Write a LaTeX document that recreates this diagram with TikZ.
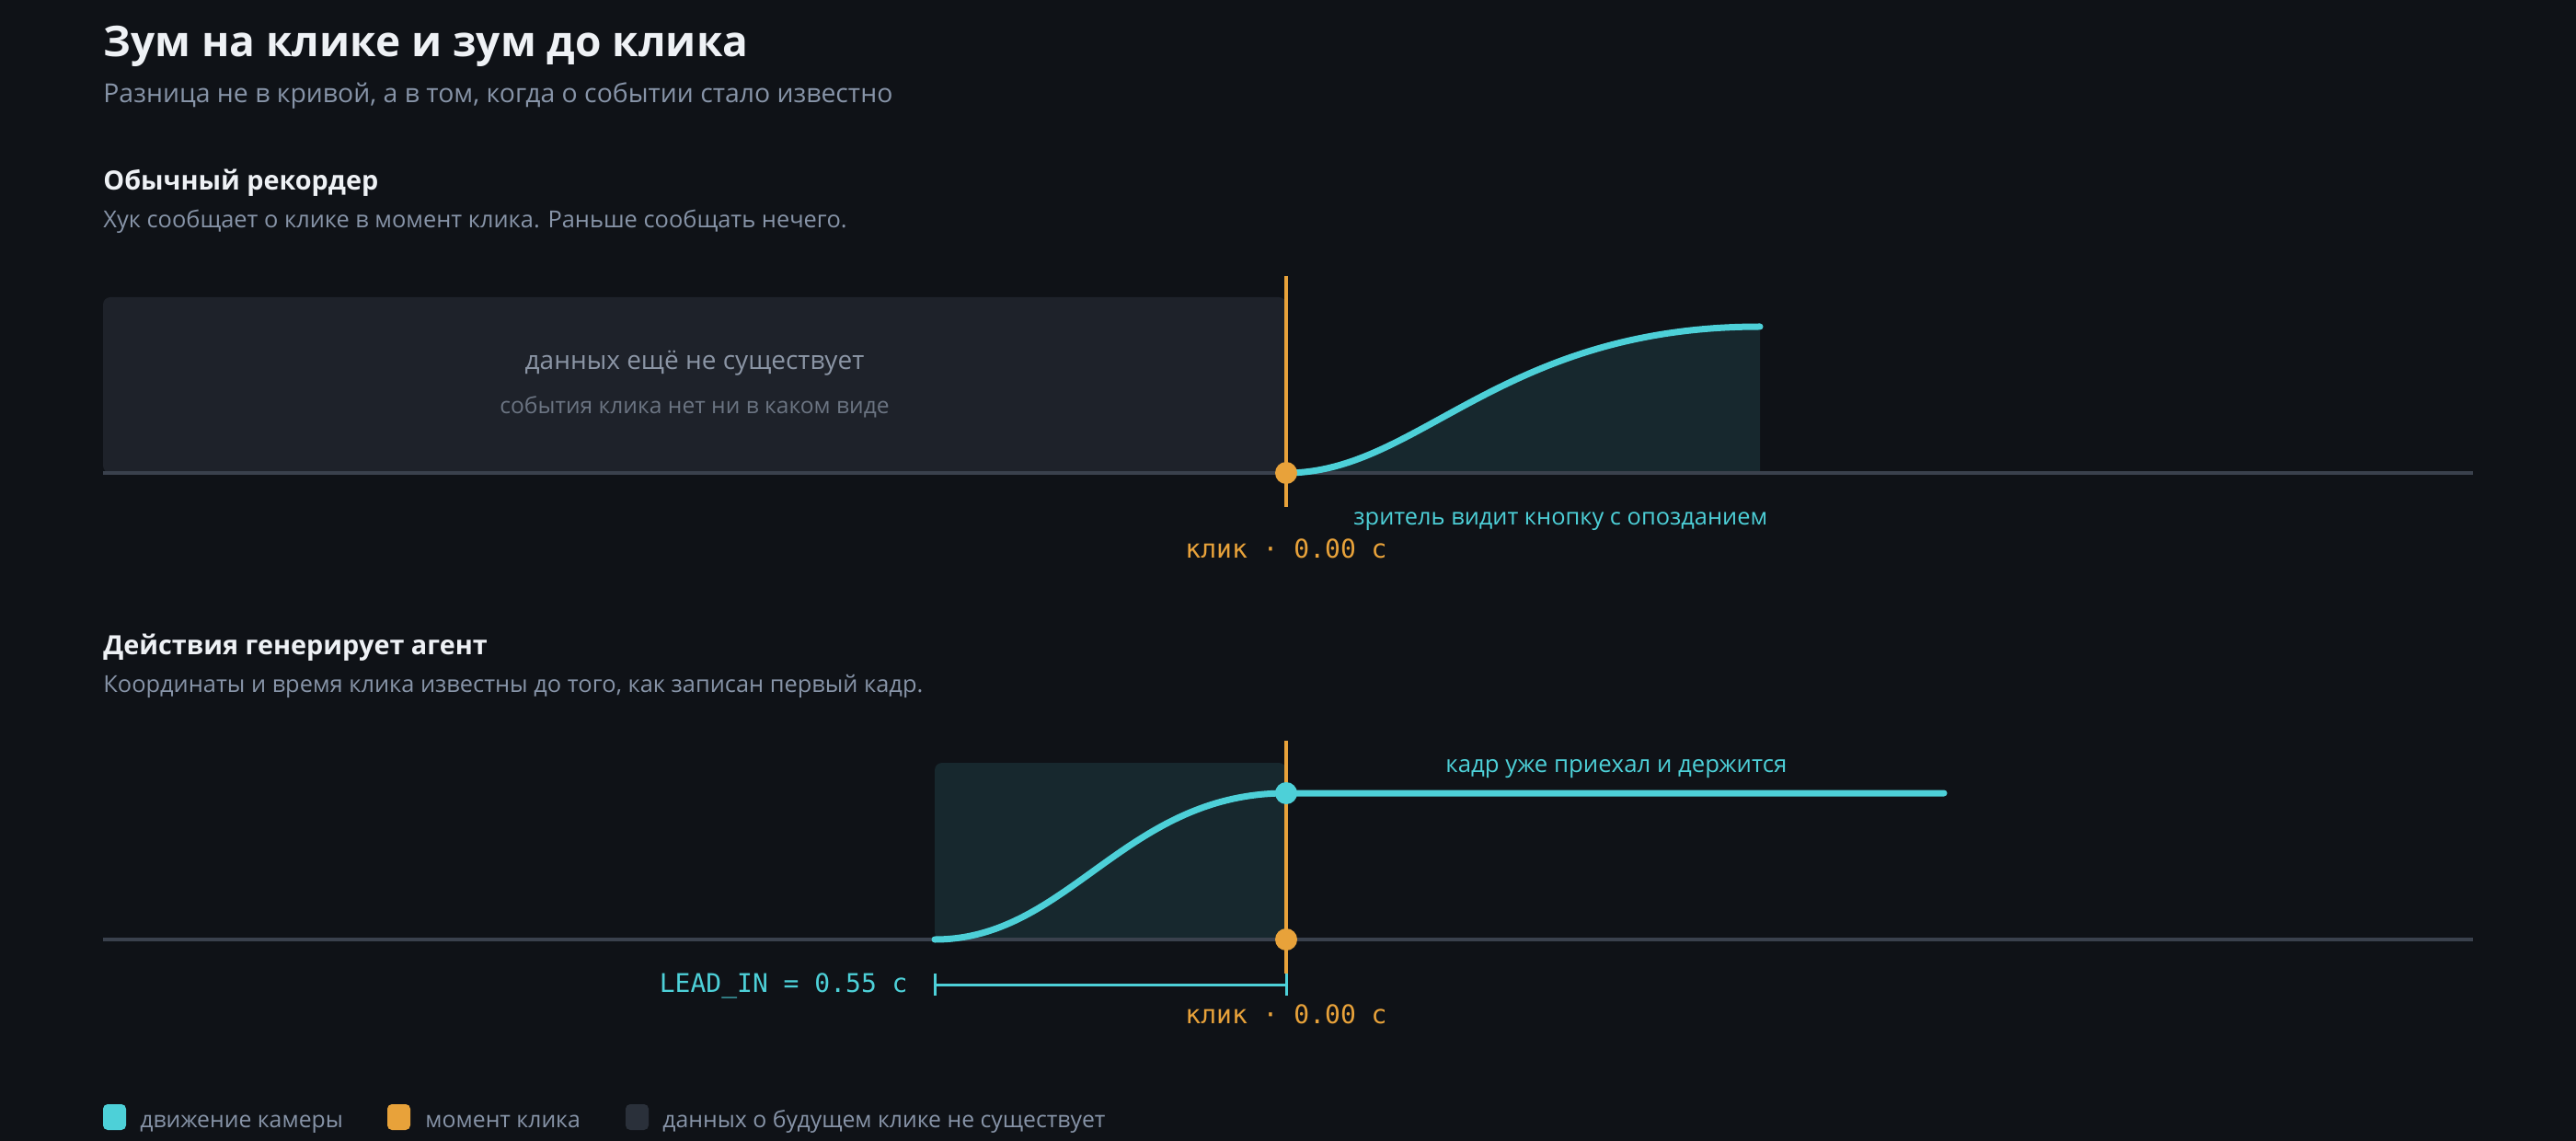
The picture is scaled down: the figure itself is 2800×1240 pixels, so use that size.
\documentclass[tikz,border=0pt]{standalone}
\usepackage{fontspec}
\setmainfont{Open Sans}
\newfontfamily\monof{DejaVu Sans Mono}
\definecolor{bg}{HTML}{0F1217}
\definecolor{nodata}{HTML}{1E222A}
\definecolor{tealfill}{HTML}{17282E}
\definecolor{cyanc}{HTML}{4DD0D8}
\definecolor{orangec}{HTML}{E8A23A}
\definecolor{axisc}{HTML}{3A414D}
\definecolor{titlec}{HTML}{EEF1F5}
\definecolor{subc}{HTML}{8794A8}
\definecolor{boxtxt}{HTML}{8B95A5}
\definecolor{boxtxt2}{HTML}{6B7482}
\definecolor{legsq}{HTML}{2A303A}
\tikzset{
  txt/.style={inner sep=0pt, anchor=base west},
  titletxt/.style={txt, text=titlec, font=\fontsize{23}{27}\selectfont\bfseries},
  subtxt/.style={txt, text=subc, font=\fontsize{14.2}{17}\selectfont},
  headtxt/.style={txt, text=titlec, font=\fontsize{14.4}{18}\selectfont\bfseries},
  desctxt/.style={txt, text=subc, font=\fontsize{12.7}{15}\selectfont},
  axisline/.style={draw=axisc, line width=1.7pt},
  clickline/.style={draw=orangec, line width=2pt},
  curve/.style={draw=cyanc, line width=3.5pt, line cap=round},
  clickdot/.style={circle, fill=orangec, minimum size=12pt, inner sep=0pt},
  camdot/.style={circle, fill=cyanc, minimum size=12pt, inner sep=0pt},
  monotxt/.style={inner sep=0pt, font=\monof\fontsize{14}{16}\selectfont},
  legbox/.style={rounded corners=2.5pt, minimum width=12.5pt, minimum height=14pt, inner sep=0pt},
  legtxt/.style={txt, text=subc, font=\fontsize{12.4}{15}\selectfont},
}
\begin{document}
\begin{tikzpicture}[x=0.5pt,y=-0.5pt]
\useasboundingbox (0,0) rectangle (2800,1240);
\fill[bg] (0,0) rectangle (2800,1240);

% headings
\node[titletxt] (title) at (112,62) {Зум на клике и зум до клика};
\node[subtxt] (sub) at (112,112) {Разница не в кривой, а в том, когда о событии стало известно};
\node[headtxt] (h1) at (112,207) {Обычный рекордер};
\node[desctxt] (d1) at (112,248) {Хук сообщает о клике в момент клика. Раньше сообщать нечего.};

% ---------- top panel ----------
\fill[nodata, rounded corners=4pt] (112,514) -- (112,323) -- (1398,323) -- (1398,514) -- cycle;
\node[inner sep=0pt, text=boxtxt, font=\fontsize{14}{17}\selectfont, anchor=base] (nd1) at (755,402) {данных ещё не существует};
\node[inner sep=0pt, text=boxtxt2, font=\fontsize{12.3}{15}\selectfont, anchor=base] (nd2) at (755,450) {события клика нет ни в каком виде};
\fill[tealfill] (1398,514) .. controls (1542.2,514) and (1629.8,355) .. (1913,355) -- (1913,514) -- cycle;
\coordinate (ax1s) at (112,514);
\coordinate (ax1e) at (2688,514);
\draw[axisline] (ax1s) -- (ax1e);
\coordinate (c1s) at (1398,514);
\coordinate (c1e) at (1913,355);
\draw[curve] (c1s) .. controls (1542.2,514) and (1629.8,355) .. (c1e);
\coordinate (o1t) at (1398,300);
\coordinate (o1b) at (1398,551);
\draw[clickline] (o1t) -- (o1b);
\node[clickdot] (dot1) at (1398,514) {};
\node[txt, text=cyanc, font=\fontsize{12.7}{15}\selectfont] (late) at (1471,571) {зритель видит кнопку с опозданием};
\node[monotxt, text=orangec, anchor=base] (click1) at (1398,607) {клик · 0.00 с};

% ---------- bottom panel ----------
\node[headtxt] (h2) at (112,711) {Действия генерирует агент};
\node[desctxt] (d2) at (112,752) {Координаты и время клика известны до того, как записан первый кадр.};

\fill[tealfill, rounded corners=4pt] (1016,1021) -- (1016,829) -- (1398,829) -- (1398,1021) -- cycle;
\coordinate (ax2s) at (112,1021);
\coordinate (ax2e) at (2688,1021);
\draw[axisline] (ax2s) -- (ax2e);
\coordinate (c2s) at (1016,1021);
\coordinate (c2m) at (1398,862);
\coordinate (c2e) at (2113,862);
\draw[curve] (c2s) .. controls (1161.2,1021) and (1222.3,862) .. (c2m) -- (c2e);
\coordinate (o2t) at (1398,805);
\coordinate (o2b) at (1398,1058);
\draw[clickline] (o2t) -- (o2b);
\node[camdot] (dot2) at (1398,862) {};
\node[clickdot] (dot3) at (1398,1021) {};
\node[txt, text=cyanc, font=\fontsize{12.9}{15}\selectfont] (held) at (1571,839) {кадр уже приехал и держится};

% lead-in bracket
\coordinate (bl) at (1016,1070);
\coordinate (br) at (1398,1070);
\coordinate (blt) at (1016,1058);
\coordinate (blb) at (1016,1082);
\coordinate (brt) at (1398,1058);
\coordinate (brb) at (1398,1082);
\draw[cyanc, line width=1.5pt] (bl) -- (br);
\draw[cyanc, line width=1.5pt] (blt) -- (blb);
\draw[cyanc, line width=1.5pt] (brt) -- (brb);
\node[monotxt, text=cyanc, anchor=base east] (lead) at (987,1078) {LEAD\_IN = 0.55 с};
\node[monotxt, text=orangec, anchor=base] (click2) at (1398,1112) {клик · 0.00 с};

% ---------- legend ----------
\node[legbox, fill=cyanc] (lg1) at (124.5,1214) {};
\node[legtxt] (lt1) at (152,1225) {движение камеры};
\node[legbox, fill=orangec] (lg2) at (433.5,1214) {};
\node[legtxt] (lt2) at (462,1225) {момент клика};
\node[legbox, fill=legsq] (lg3) at (692.5,1214) {};
\node[legtxt] (lt3) at (720,1225) {данных о будущем клике не существует};
\end{tikzpicture}
\end{document}
